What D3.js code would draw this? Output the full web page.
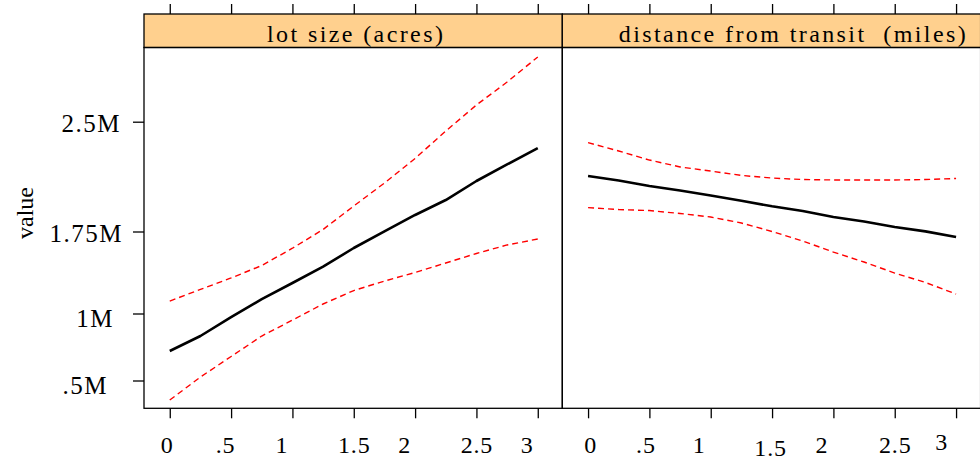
<!DOCTYPE html>
<html><head><meta charset="utf-8">
<script src="https://cdn.jsdelivr.net/npm/d3@7"></script>
<style>
body{margin:0;background:#fff}
svg{display:block}
text{font-family:"Liberation Serif","Times New Roman",serif;fill:#000;white-space:pre}
</style>
</head><body>
<svg id="chart" width="980" height="461"></svg>
<script>
// ---- data ----
const panelTitles = ["lot size (acres)", "distance from transit  (miles)"];
const xValues = [0, 0.25, 0.5, 0.75, 1, 1.25, 1.5, 1.75, 2, 2.25, 2.5, 2.75, 3];
const xTickValues = [0, 0.5, 1, 1.5, 2, 2.5, 3];
const xTickLabels = ["0", ".5", "1", "1.5", "2", "2.5", "3"];
const yTickValues = [500000, 1000000, 1750000, 2500000];
const yTickLabels = [".5M", "1M", "1.75M", "2.5M"];
const yTitle = "value";

const lotFit   = [720000, 832000, 973000, 1132000, 1279000, 1428000, 1599000, 1751000, 1863000, 1965000, 2095000, 2208000, 2320000];
const lotUpper = [1114000, 1220000, 1325000, 1439000, 1597000, 1764000, 1924000, 2081000, 2249000, 2436000, 2614000, 2771000, 2942000];
const lotLower = [354000, 526000, 679000, 832000, 951000, 1087000, 1210000, 1297000, 1375000, 1462000, 1549000, 1627000, 1681000];

const transitFit   = [2129000, 2098000, 2061000, 2030000, 1996000, 1960000, 1922000, 1890000, 1849000, 1818000, 1781000, 1751000, 1700000];
const transitUpper = [2357000, 2300000, 2238000, 2191000, 2163000, 2133000, 2115000, 2105000, 2102000, 2102000, 2102000, 2105000, 2112000];
const transitLower = [1913000, 1900000, 1893000, 1873000, 1849000, 1808000, 1750000, 1663000, 1562000, 1471000, 1370000, 1284000, 1178000];

const panelSeries = [
  {fit: lotFit, upper: lotUpper, lower: lotLower},
  {fit: transitFit, upper: transitUpper, lower: transitLower}
];

// ---- layout ----
const svg = d3.select("#chart");
const stripTop = 14, stripBottom = 47.5, plotBottom = 408.3;
const panelLeft = [144, 562.3], panelWidth = 418.3;
const FONT = 24;

// y axis: tick marks are unevenly spaced in the original, so a piecewise scale
const y = d3.scaleLinear().domain(yTickValues).range([380.5, 313.5, 231.5, 121.7]);

const xScales = panelLeft.map(x0 =>
  d3.scaleLinear().domain([-0.21, 3.2]).range([x0, x0 + panelWidth]));

// small label nudges to follow the reference's typesetting
const xLabelDx = [[-3, -6, -11, 0, -11, 0, -11], [2, -4, -12, -2, -12, 0, -15]];
const xLabelDy = [[0, 0, 0, 0, 0, 0, 0], [0, 0, 0, 3, 0, 0, -3]];
const yLabelDx = [-14, -8, 1, -1];
const yLabelDy = [4.5, 4.5, 1.5, 1.5];
const stripDx = [3, 22];

panelLeft.forEach((x0, p) => {
  const xs = xScales[p];
  // strip
  svg.append("rect").attr("x", x0).attr("y", stripTop)
    .attr("width", panelWidth).attr("height", stripBottom - stripTop)
    .attr("fill", "#ffd08e").attr("stroke", "#000").attr("stroke-width", 1.3);
  svg.append("text")
    .attr("x", x0 + panelWidth / 2 + stripDx[p]).attr("y", 42)
    .attr("text-anchor", "middle").attr("font-size", FONT)
    .attr("letter-spacing", 2.4)
    .text(panelTitles[p]);
  // panel frame
  svg.append("rect").attr("x", x0).attr("y", stripBottom)
    .attr("width", panelWidth).attr("height", plotBottom - stripBottom)
    .attr("fill", "none").attr("stroke", "#000").attr("stroke-width", 1.3);

  // bottom axis
  const gb = svg.append("g").attr("transform", `translate(0,${plotBottom})`)
    .call(d3.axisBottom(xs).tickValues(xTickValues)
      .tickFormat((d, i) => xTickLabels[i]).tickSize(10).tickSizeOuter(0));
  gb.select(".domain").remove();
  gb.selectAll(".tick line").attr("stroke", "#000").attr("stroke-width", 1.3);
  gb.selectAll(".tick text")
    .attr("font-size", FONT).attr("font-family", null)
    .attr("letter-spacing", 0.8)
    .attr("y", 45).attr("dy", (d, i) => xLabelDy[p][i])
    .attr("dx", (d, i) => xLabelDx[p][i]);

  // top axis ticks
  const gt = svg.append("g").attr("transform", `translate(0,${stripTop})`)
    .call(d3.axisTop(xs).tickValues(xTickValues).tickFormat("").tickSize(10).tickSizeOuter(0));
  gt.select(".domain").remove();
  gt.selectAll(".tick line").attr("stroke", "#000").attr("stroke-width", 1.3);

  // lines
  const s = panelSeries[p];
  const line = d3.line().x((d, i) => xs(xValues[i])).y(d => y(d));
  svg.append("path").datum(s.upper).attr("d", line)
    .attr("fill", "none").attr("stroke", "#ff0000").attr("stroke-width", 1.4)
    .attr("stroke-dasharray", "6,4");
  svg.append("path").datum(s.lower).attr("d", line)
    .attr("fill", "none").attr("stroke", "#ff0000").attr("stroke-width", 1.4)
    .attr("stroke-dasharray", "6,4");
  svg.append("path").datum(s.fit).attr("d", line)
    .attr("fill", "none").attr("stroke", "#000").attr("stroke-width", 2.6)
    .attr("stroke-linejoin", "round");
});

// left axis
const gl = svg.append("g").attr("transform", `translate(${panelLeft[0]},0)`)
  .call(d3.axisLeft(y).tickValues(yTickValues)
    .tickFormat((d, i) => yTickLabels[i]).tickSize(11).tickSizeOuter(0));
gl.select(".domain").remove();
gl.selectAll(".tick line").attr("stroke", "#000").attr("stroke-width", 1.3);
gl.selectAll(".tick text")
  .attr("font-size", 25).attr("font-family", null)
  .attr("letter-spacing", 1.5)
  .attr("x", -22).attr("dx", (d, i) => yLabelDx[i])
  .attr("dy", null)
  .attr("y", (d, i) => 8 + yLabelDy[i]);

// y title
svg.append("text")
  .attr("transform", "translate(33,213) rotate(-90)")
  .attr("text-anchor", "middle").attr("font-size", 24)
  .text(yTitle);
</script>
</body></html>
